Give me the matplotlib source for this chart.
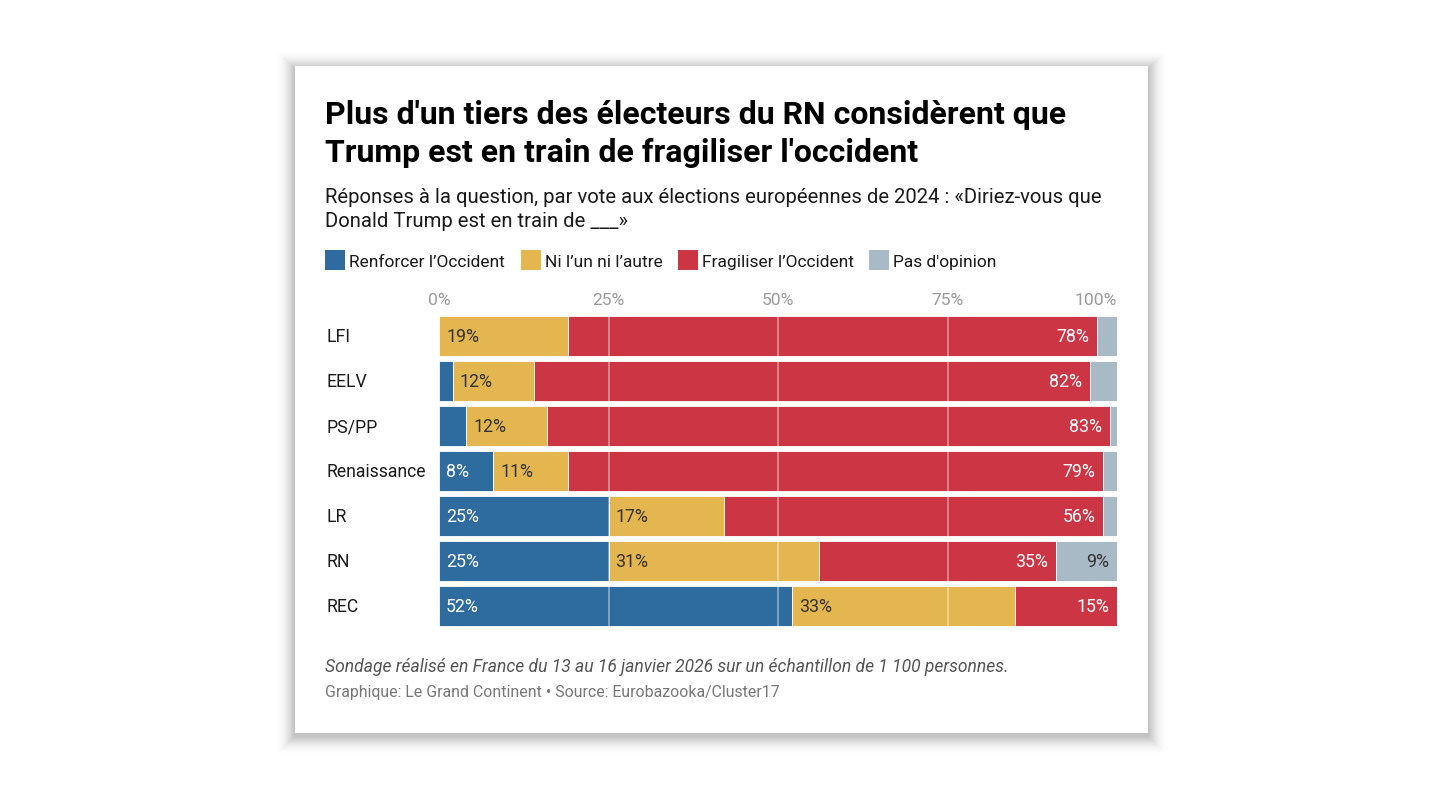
import matplotlib
matplotlib.use("Agg")
import matplotlib.pyplot as plt
from matplotlib.patches import Rectangle

# ---- data ----
categories = ["LFI", "EELV", "PS/PP", "Renaissance", "LR", "RN", "REC"]
series_names = ["Renforcer l’Occident", "Ni l’un ni l’autre", "Fragiliser l’Occident", "Pas d'opinion"]
renforcer = [0, 2, 4, 8, 25, 25, 52]
ni_ni = [19, 12, 12, 11, 17, 31, 33]
fragiliser = [78, 82, 83, 79, 56, 35, 15]
pas_opinion = [3, 4, 1, 2, 2, 9, 0]
tick_values = [0, 25, 50, 75, 100]
tick_labels = ["0%", "25%", "50%", "75%", "100%"]

colors = ["#2e6b9e", "#e4b650", "#cc3543", "#a9bac7"]
label_colors = ["white", "#333333", "white", "#333333"]
label_align = ["left", "left", "right", "right"]

W, H = 1440, 804
fig = plt.figure(figsize=(W / 100, H / 100), dpi=100)
fig.patch.set_facecolor("white")
plt.rcParams['font.family'] = ['Roboto', 'DejaVu Sans']


def fx(x):
    return x / W


def fy(y):
    return 1 - y / H


# ---- card with soft shadow ----
cx0, cy0, cx1, cy1 = 295, 67, 1148, 734
R = 20
A = 0.26
off = 3


def fall(d):
    return A * max(0.0, 1 - d / R) ** 2


for i in range(R, 0, -1):
    a = fall(i - 1) - fall(i)
    r = Rectangle((fx(cx0 - i), fy(cy1 + i + off)), (cx1 - cx0 + 2 * i) / W,
                  (cy1 - cy0 + 2 * i) / H, transform=fig.transFigure,
                  facecolor="black", edgecolor="none", alpha=a, zorder=0)
    fig.patches.append(r)
card = Rectangle((fx(cx0), fy(cy1)), (cx1 - cx0) / W, (cy1 - cy0) / H,
                 transform=fig.transFigure, facecolor="white", edgecolor="none", zorder=1)
fig.patches.append(card)

# ---- titles ----
fig.text(fx(325), fy(124), "Plus d'un tiers des électeurs du RN considèrent que",
         fontsize=23, fontweight="bold", color="#000000", va="baseline", ha="left")
fig.text(fx(325), fy(162), "Trump est en train de fragiliser l'occident",
         fontsize=23, fontweight="bold", color="#000000", va="baseline", ha="left")
fig.text(fx(325), fy(203), "Réponses à la question, par vote aux élections européennes de 2024 : «Diriez-vous que",
         fontsize=14.6, color="#1a1a1a", va="baseline", ha="left")
fig.text(fx(325), fy(227), "Donald Trump est en train de ___»",
         fontsize=14.6, color="#1a1a1a", va="baseline", ha="left")

# ---- legend ----
legend_x = [325, 521, 678, 869]
for lx, name, c in zip(legend_x, series_names, colors):
    fig.patches.append(Rectangle((fx(lx), fy(271)), 20 / W, 20 / H, transform=fig.transFigure,
                                 facecolor=c, edgecolor="none", zorder=2))
    fig.text(fx(lx + 24), fy(267), name, fontsize=12.5, color="#1a1a1a", va="baseline", ha="left")

# ---- axes ----
top, bottom = 314.5, 629.5
ax = fig.add_axes([fx(439), fy(bottom), (1117 - 439) / W, (bottom - top) / H])
ax.set_zorder(3)
ax.patch.set_alpha(0)
n = len(categories)
ys = list(range(n))
series = [renforcer, ni_ni, fragiliser, pas_opinion]
lefts = [0] * n
for si, vals in enumerate(series):
    ax.barh(ys, vals, left=lefts, height=0.867, color=colors[si], edgecolor="white",
            linewidth=0.6, zorder=2)
    for i, v in enumerate(vals):
        if v >= 5:
            if label_align[si] == "left":
                xpos = lefts[i] + 1.05
            else:
                xpos = lefts[i] + v - 1.15
            ax.text(xpos, i, f"{v}%", ha=label_align[si], va="center", fontsize=12.8,
                    color=label_colors[si], zorder=4)
    lefts = [a + b for a, b in zip(lefts, vals)]

for t in tick_values[1:-1]:
    ax.axvline(t, color="white", alpha=0.45, linewidth=1.2, zorder=3)

ax.set_xlim(0, 100)
ax.set_ylim(n - 0.5, -0.5)
ax.set_yticks([])
ax.set_xticks([])
for s in ax.spines.values():
    s.set_visible(False)

for i, c in enumerate(categories):
    ax.text(-113.0 / 6.78, i, c, ha="left", va="center", fontsize=12.7, color="#1a1a1a")

for t, lab in zip(tick_values, tick_labels):
    ha = "right" if t == 100 else "center"
    ax.text(t, -0.5 - 14 / 45, lab, ha=ha, va="center", fontsize=12.6, color="#9a9a9a")

# ---- footer ----
fig.text(fx(325), fy(672), "Sondage réalisé en France du 13 au 16 janvier 2026 sur un échantillon de 1 100 personnes.",
         fontsize=12.65, style="italic", color="#555555", va="baseline", ha="left")
fig.text(fx(325), fy(697), "Graphique: Le Grand Continent • Source: Eurobazooka/Cluster17",
         fontsize=11.45, color="#777777", va="baseline", ha="left")

fig.savefig("out.png", dpi=100, facecolor="white")
